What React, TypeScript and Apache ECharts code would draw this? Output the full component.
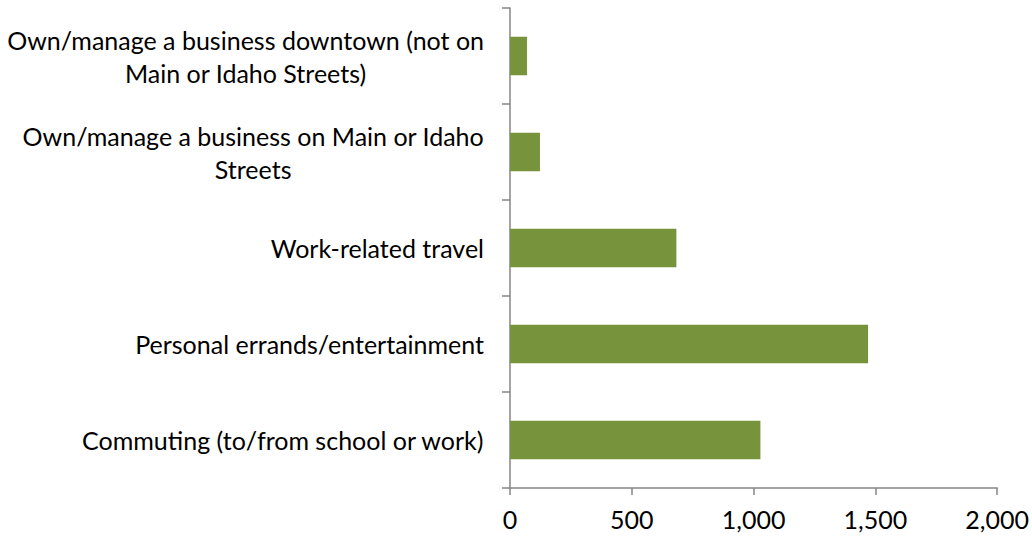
import React, { useEffect, useRef } from "react";
import * as echarts from "echarts";

const categories = [
  "Commuting (to/from school or work)",
  "Personal errands/entertainment",
  "Work-related travel",
  "Own/manage a business on Main or Idaho\nStreets",
  "Own/manage a business downtown (not on\nMain or Idaho Streets)",
];
const values = [1028, 1470, 683, 123, 70];
const xTicks = { min: 0, max: 2000, interval: 500 };

const FONT = "Lato";
const FS = 25;

export default function App() {
  const ref = useRef<HTMLDivElement>(null);
  useEffect(() => {
    const chart = echarts.init(ref.current!, null, { renderer: "svg" });
    chart.setOption({
      animation: false,
      grid: { left: 510, right: 33, top: 8, bottom: 49, containLabel: false },
      xAxis: {
        type: "value",
        min: xTicks.min,
        max: xTicks.max,
        interval: xTicks.interval,
        splitLine: { show: false },
        axisLine: { show: true, lineStyle: { color: "#868686", width: 1.5 } },
        axisTick: { show: true, length: 7, lineStyle: { color: "#868686", width: 1.5 } },
        axisLabel: {
          color: "#000",
          fontFamily: FONT,
          fontSize: FS,
          margin: 18,
          formatter: (v: number) => v.toLocaleString("en-US"),
        },
      },
      yAxis: {
        type: "category",
        data: categories,
        axisLine: { show: true, lineStyle: { color: "#868686", width: 1.5 } },
        axisTick: { show: true, length: 8, lineStyle: { color: "#868686", width: 1.5 } },
        axisLabel: {
          color: "#000",
          margin: 26,
          align: "right",
          formatter: (v: string) =>
            v
              .split("\n")
              .map((l) => `{c|${l}}`)
              .join("\n"),
          rich: {
            c: {
              fontFamily: FONT,
              fontSize: FS,
              color: "#000",
              align: "center",
              lineHeight: 33,
            },
          },
        },
      },
      series: [
        {
          type: "bar",
          data: values,
          barWidth: "40%",
          itemStyle: { color: "#77933C" },
        },
      ],
    });
    return () => chart.dispose();
  }, []);
  return <div ref={ref} style={{ width: 1032, height: 537, position: "absolute", left: 0, top: 0 }} />;
}
